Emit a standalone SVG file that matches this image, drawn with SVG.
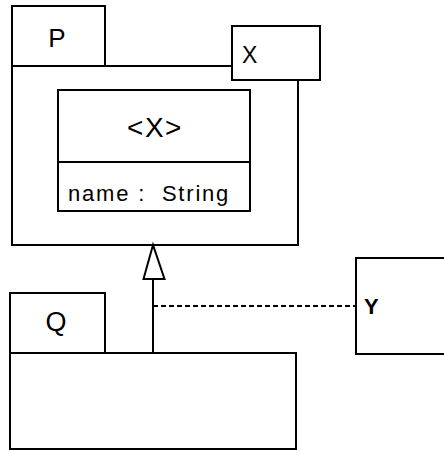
<svg xmlns="http://www.w3.org/2000/svg" width="444" height="450" viewBox="0 0 444 450">
<style>
.s{fill:#fff;stroke:#000;stroke-width:2}
.t{font-family:"Liberation Sans",Arial,sans-serif;fill:#000}
</style>
<rect width="444" height="450" fill="#fff"/>
<g id="P">
<rect class="s" x="12" y="6" width="93" height="60"/>
<rect class="s" x="12" y="66" width="286" height="179"/>
<text class="t" x="57" y="47" font-size="26" text-anchor="middle">P</text>
</g>
<g id="Xtab">
<rect class="s" x="232" y="26" width="88" height="54"/>
<text class="t" x="242" y="63" font-size="23">X</text>
</g>
<g id="classX">
<rect class="s" x="58" y="90" width="192" height="121"/>
<line class="s" x1="58" y1="162" x2="250" y2="162"/>
<text class="t" x="155" y="137" font-size="28" letter-spacing="1.5" text-anchor="middle">&lt;X&gt;</text>
<text class="t" x="68" y="201" font-size="22" letter-spacing="1.8" xml:space="preserve">name :  String</text>
</g>
<g id="Q">
<rect class="s" x="10" y="293" width="95" height="60"/>
<rect class="s" x="10" y="353" width="286" height="96"/>
<text class="t" x="56" y="331" font-size="27" text-anchor="middle">Q</text>
</g>
<g id="Y">
<rect class="s" x="356" y="258" width="92" height="96"/>
<text class="t" x="364" y="314" font-size="22" font-weight="bold">Y</text>
</g>
<g id="connectors">
<line x1="153" y1="353" x2="153" y2="279" stroke="#000" stroke-width="2"/>
<polygon points="153,245 143.5,279 164.5,279" fill="#fff" stroke="#000" stroke-width="2"/>
<line x1="153" y1="306" x2="356" y2="306" stroke="#000" stroke-width="2" stroke-dasharray="5,3"/>
</g>
</svg>
